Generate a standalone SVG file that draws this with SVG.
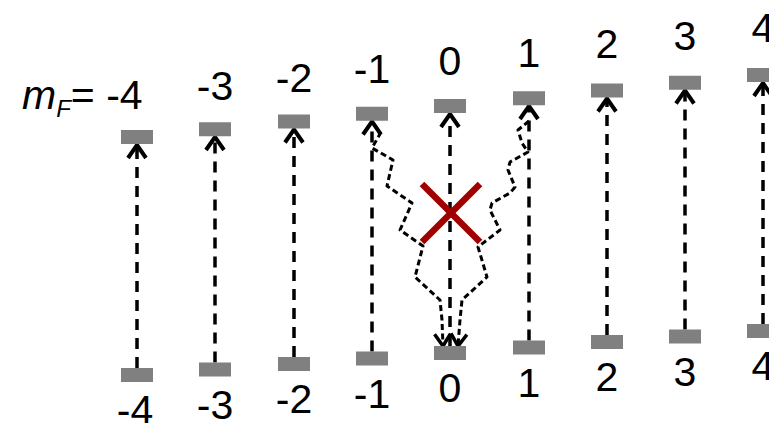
<svg xmlns="http://www.w3.org/2000/svg" width="769" height="423" viewBox="0 0 769 423">
<defs>
<style>
.bar{fill:#808080}
.lbl{font-family:"Liberation Sans",Arial,sans-serif;font-size:41px;fill:#000;text-anchor:middle}
.v{stroke:#000;stroke-width:3.5;stroke-dasharray:11 8;fill:none;marker-end:url(#ah)}
.w{stroke:#000;stroke-width:3;stroke-dasharray:6 3.5;fill:none;stroke-linejoin:round;marker-end:url(#ah2)}
.x{stroke:#a00000;stroke-width:6.5;stroke-linecap:butt}
</style>
<marker id="ah" markerUnits="userSpaceOnUse" viewBox="-15 -12 17 24" refX="0" refY="0" markerWidth="17" markerHeight="24" orient="auto" overflow="visible">
<path d="M-13,-9 L0,0 L-13,9" fill="none" stroke="#000" stroke-width="4"/>
</marker>
<marker id="ah2" markerUnits="userSpaceOnUse" viewBox="-15 -12 17 24" refX="0" refY="0" markerWidth="17" markerHeight="24" orient="auto" overflow="visible">
<path d="M-12,-8 L0,0 L-12,8" fill="none" stroke="#000" stroke-width="3.5"/>
</marker>
</defs>
<rect width="769" height="423" fill="#fff"/>
<g id="connectors">
<line class="v" x1="137" y1="368" x2="137" y2="145"/>
<line class="v" x1="215" y1="362.5" x2="215" y2="137"/>
<line class="v" x1="294" y1="357" x2="294" y2="129.5"/>
<line class="v" x1="372" y1="351.5" x2="372" y2="121.5"/>
<line class="v" x1="450" y1="346" x2="450" y2="114"/>
<line class="v" x1="529" y1="340.5" x2="529" y2="106"/>
<line class="v" x1="607" y1="335" x2="607" y2="98.5"/>
<line class="v" x1="685" y1="329.5" x2="685" y2="90.5"/>
<line class="v" x1="763" y1="324" x2="763" y2="83"/>
<polyline class="w" points="374,124 380,134 372,148 393,160 387,186 412,203 400,230 423,246 415,277 440,300 442,320 443,346"/>
<polyline class="w" points="529,121 518,130 522,143 528,152 510,162 508,170 515,187 510,193 492,203 490,210 500,230 478,247 487,277 462,300 460,320 458,346"/>
<line class="x" x1="422" y1="184" x2="480" y2="242"/>
<line class="x" x1="480" y1="184" x2="422" y2="242"/>
</g>
<g id="level-m-4"><rect class="bar" x="121" y="130" width="32" height="14"/><rect class="bar" x="121" y="368" width="32" height="14"/><text class="lbl" x="135" y="424">-4</text></g>
<g id="level-m-3"><rect class="bar" x="199" y="122.25" width="32" height="14"/><rect class="bar" x="199" y="362.5" width="32" height="14"/><text class="lbl" x="215" y="100">-3</text><text class="lbl" x="215" y="418.5">-3</text></g>
<g id="level-m-2"><rect class="bar" x="278" y="114.5" width="32" height="14"/><rect class="bar" x="278" y="357" width="32" height="14"/><text class="lbl" x="294" y="91.6">-2</text><text class="lbl" x="294" y="413">-2</text></g>
<g id="level-m-1"><rect class="bar" x="356" y="106.75" width="32" height="14"/><rect class="bar" x="356" y="351.5" width="32" height="14"/><text class="lbl" x="372" y="83.3">-1</text><text class="lbl" x="372" y="407.5">-1</text></g>
<g id="level-m0"><rect class="bar" x="434" y="99" width="32" height="14"/><rect class="bar" x="434" y="346" width="32" height="14"/><text class="lbl" x="450" y="75">0</text><text class="lbl" x="450" y="402">0</text></g>
<g id="level-m1"><rect class="bar" x="513" y="91.25" width="32" height="14"/><rect class="bar" x="513" y="340.5" width="32" height="14"/><text class="lbl" x="529" y="66.7">1</text><text class="lbl" x="529" y="396.5">1</text></g>
<g id="level-m2"><rect class="bar" x="591" y="83.5" width="32" height="14"/><rect class="bar" x="591" y="335" width="32" height="14"/><text class="lbl" x="607" y="58.4">2</text><text class="lbl" x="607" y="391">2</text></g>
<g id="level-m3"><rect class="bar" x="669" y="75.75" width="32" height="14"/><rect class="bar" x="669" y="329.5" width="32" height="14"/><text class="lbl" x="685" y="50.1">3</text><text class="lbl" x="685" y="385.5">3</text></g>
<g id="level-m4"><rect class="bar" x="747" y="68" width="32" height="14"/><rect class="bar" x="747" y="324" width="32" height="14"/><text class="lbl" x="763" y="41.8">4</text><text class="lbl" x="763" y="380">4</text></g>
<g id="mF-label"><text x="22" y="109" font-family="'Liberation Sans',Arial,sans-serif" font-size="41"><tspan font-style="italic">m</tspan><tspan font-style="italic" font-size="24" dy="8">F</tspan><tspan dy="-8">= -4</tspan></text></g>
</svg>
